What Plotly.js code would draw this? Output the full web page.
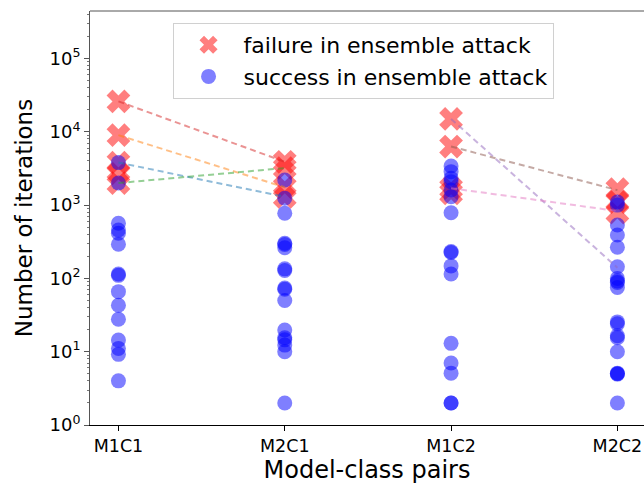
<!DOCTYPE html>
<html>
<head>
<meta charset="utf-8">
<script src="https://cdn.plot.ly/plotly-3.0.1.min.js"></script>
<style>html,body{margin:0;padding:0;background:#fff;}</style>
</head>
<body>
<div id="chart" style="width:644px;height:485px;"></div>
<script>
// Categories (model-class pairs)
const categories = ['M1C1', 'M2C1', 'M1C2', 'M2C2'];

// Y tick values and labels
const yTickVals = [1, 10, 100, 1000, 10000, 100000];
const yTickText = ['10<sup>0</sup>', '10<sup>1</sup>', '10<sup>2</sup>', '10<sup>3</sup>', '10<sup>4</sup>', '10<sup>5</sup>'];

// Failures in ensemble attack (number of iterations), per category
const failM1C1 = [26000, 9000, 3800, 2700, 2000];
const failM2C1 = [3900, 3200, 1750, 1300];
const failM1C2 = [15000, 6300, 1700, 1450];
const failM2C2 = [1650, 1100, 790];

// Successes in ensemble attack (number of iterations), per category
const succM1C1 = [3800, 2000, 565, 457, 413, 292, 115, 110, 66, 43, 27.7, 14.4, 11.1, 9.2, 4.0];
const succM2C1 = [2200, 1240, 773, 301, 290, 262, 135, 128, 74, 71, 50, 19.8, 15.5, 14.5, 12.3, 10, 2.0];
const succM1C2 = [3410, 2860, 2320, 2090, 1610, 1300, 788, 232, 226, 148, 115, 13, 7, 5.1, 2.0, 2.0];
const succM2C2 = [1100, 1000, 535, 391, 266, 144, 100, 92, 88, 75, 25.5, 24, 16.5, 15.5, 10, 5.1, 5.0, 4.95, 2.0];

// Dashed connection lines: from category, to category, start value, end value
const linkFrom = ['M1C1', 'M1C1', 'M1C1', 'M1C1', 'M1C2', 'M1C2', 'M1C2'];
const linkTo   = ['M2C1', 'M2C1', 'M2C1', 'M2C1', 'M2C2', 'M2C2', 'M2C2'];
const linkStart = [3800, 9000, 2000, 26000, 15000, 6300, 1700];
const linkEnd   = [1300, 1750, 3200, 3900, 140, 1600, 830];
const linkColors = ['rgba(31,119,180,0.5)', 'rgba(255,127,14,0.5)', 'rgba(44,160,44,0.5)',
                    'rgba(214,39,40,0.5)', 'rgba(148,103,189,0.5)', 'rgba(140,86,75,0.5)',
                    'rgba(227,119,194,0.5)'];

const legendNames = ['failure in ensemble attack', 'success in ensemble attack'];

function flatten(groups) {
  const xs = [], ys = [];
  groups.forEach((vals, i) => vals.forEach(v => { xs.push(categories[i]); ys.push(v); }));
  return {xs, ys};
}
const fail = flatten([failM1C1, failM2C1, failM1C2, failM2C2]);
const succ = flatten([succM1C1, succM2C1, succM1C2, succM2C2]);

const traces = [];
traces.push({
  type: 'scatter', mode: 'markers', name: legendNames[0],
  x: fail.xs, y: fail.ys,
  marker: {symbol: 'x', size: 21, color: 'rgba(255,0,0,0.5)', line: {width: 0}}
});
traces.push({
  type: 'scatter', mode: 'markers', name: legendNames[1],
  x: succ.xs, y: succ.ys,
  marker: {symbol: 'circle', size: 15, color: 'rgba(0,0,255,0.5)', line: {width: 0}}
});
for (let i = 0; i < linkFrom.length; i++) {
  traces.push({
    type: 'scatter', mode: 'lines', showlegend: false, hoverinfo: 'skip',
    x: [linkFrom[i], linkTo[i]], y: [linkStart[i], linkEnd[i]],
    line: {color: linkColors[i], width: 2, dash: '6px,4px'}
  });
}

const font = {family: 'DejaVu Sans, sans-serif', color: '#000'};
const layout = {
  width: 644, height: 485,
  margin: {l: 90, r: 0, t: 11, b: 60},
  paper_bgcolor: '#fff', plot_bgcolor: '#fff',
  font: font,
  showlegend: true,
  legend: {
    x: 0.149, y: 0.971, xanchor: 'left', yanchor: 'top',
    bgcolor: 'rgba(255,255,255,0.9)', bordercolor: '#d0d0d0', borderwidth: 1,
    font: {family: 'DejaVu Sans, sans-serif', size: 22, color: '#000'},
    itemwidth: 60, tracegroupgap: 0
  },
  xaxis: {
    type: 'category', categoryorder: 'array', categoryarray: categories,
    range: [-0.171, 3.16],
    showline: true, linecolor: '#000', linewidth: 1,
    ticks: 'outside', ticklen: 5, tickwidth: 1, tickcolor: '#000',
    showgrid: false, zeroline: false,
    tickfont: {family: 'DejaVu Sans, sans-serif', size: 17.5, color: '#000'},
    title: {text: 'Model-class pairs', font: {family: 'DejaVu Sans, sans-serif', size: 24, color: '#000'}, standoff: 5}
  },
  yaxis: {
    type: 'log', range: [0, 5.648],
    tickmode: 'array', tickvals: yTickVals, ticktext: yTickText,
    showline: true, linecolor: '#555', linewidth: 1,
    ticks: 'outside', ticklen: 5, tickwidth: 1, tickcolor: '#555',
    minor: {ticks: 'outside', ticklen: 2.5, tickwidth: 0.8, tickcolor: '#555', showgrid: false, dtick: 'D1'},
    showgrid: false, zeroline: false,
    tickfont: {family: 'DejaVu Sans, sans-serif', size: 18, color: '#000'},
    title: {text: 'Number of iterations', font: {family: 'DejaVu Sans, sans-serif', size: 23, color: '#000'}, standoff: 10}
  },
  shapes: [{
    type: 'line', xref: 'paper', yref: 'paper', x0: 0, x1: 1, y0: 1, y1: 1,
    line: {color: '#555', width: 1}
  }]
};

Plotly.newPlot('chart', traces, layout, {displayModeBar: false, staticPlot: true});
</script>
</body>
</html>
